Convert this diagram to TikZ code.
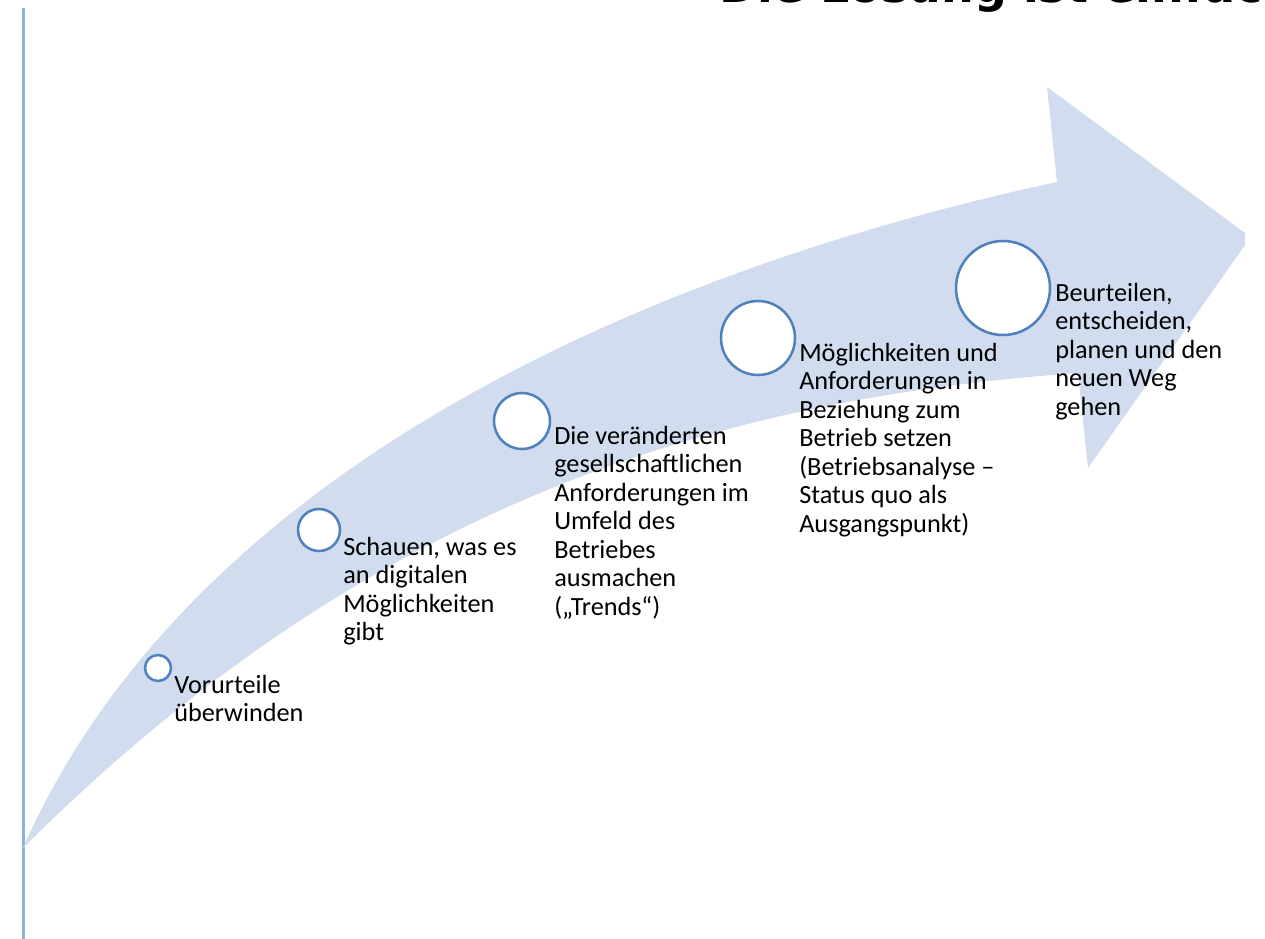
\documentclass[tikz,border=0pt]{standalone}
\usepackage{fontspec}
\setmainfont{Carlito}
\newfontfamily\headfont{DejaVu Sans}
\definecolor{arrowfill}{RGB}{209,220,238}
\definecolor{ringblue}{RGB}{79,129,189}
\definecolor{rulerblue}{RGB}{141,179,226}
\newcommand{\steplines}[1]{\begin{tabular}[t]{@{}l@{}}#1\end{tabular}}
\begin{document}
\begin{tikzpicture}[x=0.75pt,y=-0.75pt,
  ring/.style={circle, draw=ringblue, fill=white, line width=1.9pt,
    inner sep=0pt, minimum size=#1*1.5pt},
  steptext/.style={anchor=base west, inner sep=0pt,
    font=\fontsize{19.7pt}{21.4pt}\selectfont},
  headline/.style={anchor=base west, inner sep=0pt,
    font=\headfont\bfseries\fontsize{34.5pt}{40pt}\selectfont}]
\useasboundingbox (0,0) rectangle (1265,939);

% heading, cut by the top edge
\begin{scope}
  \clip (0,0) rectangle (1265,939);
  \node[headline] (title) at (719,2) {Die Lösung ist einfach};
\end{scope}

% vertical rule at the left margin
\coordinate (ruletop) at (23.5,8);
\coordinate (rulebot) at (23.5,939);
\draw[rulerblue, line width=2.2pt] (ruletop) -- (rulebot);

% curved upward arrow
\fill[arrowfill] (23,848) .. controls (190,470) and (647,270) .. (1057,182)
  -- (1047,87) -- (1245,233) -- (1245,245) -- (1088,468) -- (1078,373)
  .. controls (728,398) and (373,498) .. (23,848) -- cycle;

% step markers
\node[ring=13] (c1) at (158,668) {};
\node[ring=21] (c2) at (319,530) {};
\node[ring=28] (c3) at (522,421) {};
\node[ring=37] (c4) at (758,338) {};
\node[ring=47] (c5) at (1003,288) {};

% step labels
\node[steptext] (t1) at (174,693) {\steplines{Vorurteile\\überwinden}};
\node[steptext] (t2) at (343,555) {\steplines{Schauen, was es\\an digitalen\\Möglichkeiten\\gibt}};
\node[steptext] (t3) at (554,444) {\steplines{Die veränderten\\gesellschaftlichen\\Anforderungen im\\Umfeld des\\Betriebes\\ausmachen\\(„Trends“)}};
\node[steptext] (t4) at (799,361) {\steplines{Möglichkeiten und\\Anforderungen in\\Beziehung zum\\Betrieb setzen\\(Betriebsanalyse –\\Status quo als\\Ausgangspunkt)}};
\node[steptext] (t5) at (1055,301) {\steplines{Beurteilen,\\entscheiden,\\planen und den\\neuen Weg\\gehen}};
\end{tikzpicture}
\end{document}
